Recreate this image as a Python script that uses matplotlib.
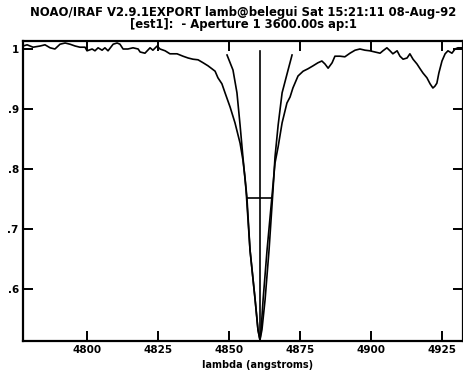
import matplotlib
matplotlib.use("Agg")
import matplotlib.pyplot as plt
from matplotlib.ticker import FuncFormatter

# spectrum around H-beta
wave = [4777.5, 4778.9, 4781.0, 4783.5, 4785.2, 4787.0, 4788.7, 4790.5, 4792.3,
        4794.0, 4795.8, 4797.5, 4799.3, 4800.0, 4801.8, 4802.8, 4803.9, 4805.3,
        4806.3, 4807.4, 4809.2, 4810.6, 4811.6, 4812.7, 4814.4, 4816.2, 4818.0,
        4818.7, 4820.4, 4822.2, 4823.2, 4824.7, 4825.7, 4827.5, 4829.2, 4831.7,
        4833.8, 4835.6, 4837.3, 4839.1, 4840.9, 4842.6, 4844.0, 4845.1, 4846.1,
        4847.5, 4848.6, 4850.4, 4852.1, 4853.9, 4854.9, 4855.6, 4856.3, 4857.4,
        4859.2, 4860.2, 4860.9, 4861.3, 4862.0, 4863.4, 4865.1, 4866.2, 4867.3,
        4868.7, 4870.4, 4871.5, 4872.5, 4874.3, 4876.1, 4877.8, 4879.6, 4881.3,
        4882.7, 4883.8, 4884.9, 4886.3, 4887.3, 4889.1, 4890.8, 4892.6, 4894.4,
        4896.1, 4897.9, 4899.6, 4901.4, 4903.2, 4904.2, 4905.6, 4906.7, 4907.7,
        4909.2, 4910.2, 4911.3, 4912.7, 4913.7, 4914.8, 4916.2, 4917.3, 4918.3,
        4919.7, 4920.8, 4921.8, 4922.5, 4923.2, 4923.9, 4925.0, 4926.1, 4927.1,
        4928.5, 4929.6, 4930.6, 4932.4]
flux = [1.005, 1.007, 1.003, 1.005, 1.007, 1.002, 1.000, 1.008, 1.010,
        1.008, 1.005, 1.003, 1.003, 0.997, 1.000, 0.997, 1.002, 0.998,
        1.002, 0.997, 1.008, 1.010, 1.008, 1.000, 1.000, 1.002, 1.000,
        0.995, 0.993, 1.002, 0.998, 1.005, 1.000, 0.997, 0.992, 0.992,
        0.988, 0.985, 0.983, 0.982, 0.977, 0.972, 0.967, 0.963, 0.952,
        0.942, 0.927, 0.903, 0.877, 0.843, 0.815, 0.787, 0.753, 0.665,
        0.582, 0.532, 0.515, 0.532, 0.582, 0.665, 0.753, 0.810, 0.837,
        0.877, 0.910, 0.920, 0.935, 0.955, 0.963, 0.967, 0.972, 0.977,
        0.980, 0.975, 0.968, 0.977, 0.988, 0.988, 0.987, 0.993, 0.998,
        1.000, 0.998, 0.997, 0.995, 0.993, 0.997, 1.002, 0.997, 0.992,
        0.997, 0.988, 0.983, 0.985, 0.992, 0.983, 0.975, 0.967, 0.960,
        0.952, 0.942, 0.935, 0.938, 0.943, 0.960, 0.980, 0.992, 0.997,
        0.993, 1.000, 1.002, 1.002]

# profile fit over the line core
fit_wave = [4849.3, 4851.4, 4852.8, 4853.9, 4854.9, 4856.0, 4857.4, 4859.2,
            4860.2, 4860.9, 4861.6, 4862.7, 4864.1, 4865.5, 4866.2, 4867.3,
            4868.7, 4870.8, 4872.2]
fit_flux = [0.990, 0.965, 0.927, 0.873, 0.820, 0.765, 0.665, 0.582,
            0.532, 0.515, 0.532, 0.582, 0.665, 0.765, 0.820, 0.873,
            0.927, 0.965, 0.990]

center = 4860.9
center_top = 0.997
fwhm_lo, fwhm_hi, half_level = 4856.3, 4865.1, 0.752

title = ("NOAO/IRAF V2.9.1EXPORT lamb@belegui Sat 15:21:11 08-Aug-92\n"
         "[est1]:  - Aperture 1 3600.00s ap:1")

fig = plt.figure(figsize=(4.63, 3.76), dpi=100)
ax = fig.add_axes([0.0497, 0.0931, 0.9503, 0.7978])

ax.plot(wave, flux, color="black", lw=1.2)
ax.plot(fit_wave, fit_flux, color="black", lw=1.2)
ax.plot([center, center], [min(flux), center_top], color="black", lw=1.2)
ax.plot([fwhm_lo, fwhm_hi], [half_level, half_level], color="black", lw=1.2)

ax.set_xlim(4777.46, 4932.4)
ax.set_ylim(0.5133, 1.0133)
ax.set_xticks([4800, 4825, 4850, 4875, 4900, 4925])
ax.set_yticks([0.6, 0.7, 0.8, 0.9, 1.0])
ax.yaxis.set_major_formatter(FuncFormatter(
    lambda v, p: "1" if abs(v - 1) < 1e-6 else ("%.1f" % v).lstrip("0")))

for s in ax.spines.values():
    s.set_linewidth(1.6)
ax.tick_params(direction="in", length=7, width=1.4, top=True, right=True,
               labelsize=7.5, pad=3)
for lab in ax.get_xticklabels() + ax.get_yticklabels():
    lab.set_fontweight("bold")

ax.set_xlabel("lambda (angstroms)", fontsize=7, fontweight="bold")
ax.xaxis.set_label_coords(0.534, -0.065)
fig.text(0.526, 0.984, title, ha="center", va="top", fontsize=8.4,
         fontweight="bold", linespacing=0.9)

fig.savefig("out.png", dpi=100)
